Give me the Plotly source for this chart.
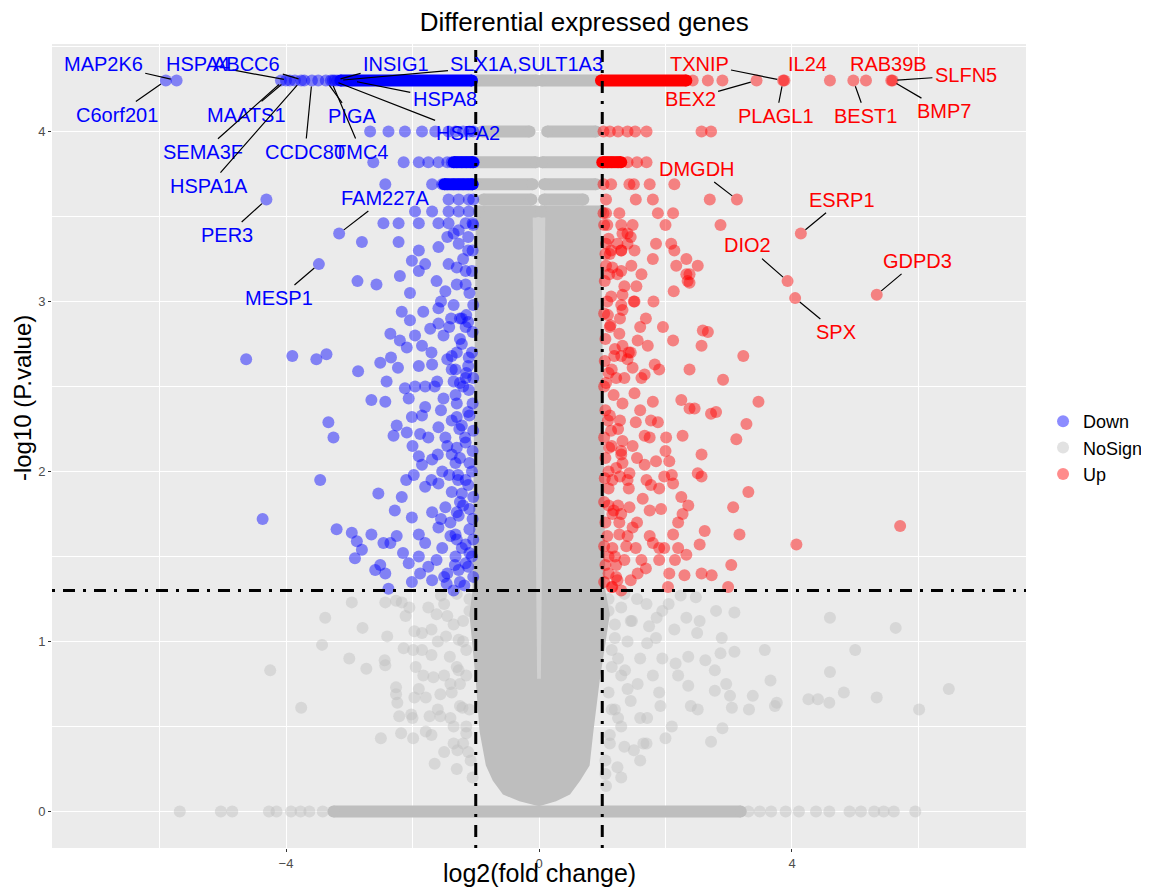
import plotly.graph_objects as go

# ---------------- data ----------------
groups = ["Down", "NoSign", "Up"]

down_x = [-5.9, -5.73, -4.08, -4.0, -3.94, -3.86, -3.76, -3.71, -3.59, -3.49, -3.37, -3.29, -3.26, -3.23, -3.19,
          -2.67, -2.38, -2.12, -1.85, -1.64, -1.43, -1.32, -1.2, -1.1, -1.04,
          -2.62, -2.14, -1.90, -1.75, -1.59, -1.45, -1.38, -1.3, -1.22, -1.15, -1.08, -1.03,
          -2.43, -1.69, -1.53, -1.45, -1.35, -1.27, -1.2, -1.12, -1.05,
          -4.31, -1.43, -1.27, -1.11, -1.04,
          -1.96, -1.69, -1.43, -1.27, -1.11,
          -2.46, -2.22, -1.90, -1.59, -1.43, -1.16, -1.05,
          -3.16, -1.27, -2.80, -2.22, -1.27, -1.59, -1.90, -2.01, -1.80, -1.43, -3.48, -1.90, -1.16, -2.20, -2.87, -2.57, -1.16, -1.48, -2.04,
          -2.17, -1.83, -2.04, -1.59, -1.39, -1.22, -1.59, -1.72, -2.35, -2.20, -1.96, -2.09, -1.85, -1.51, -1.22, -1.38, -1.16,
          -2.51, -2.34, -2.23, -2.86, -1.69, -1.32, -1.11, -2.41, -2.12, -1.96, -1.80, -1.61, -1.35, -1.16,
          -2.65, -2.43, -2.06, -1.80, -1.51, -1.32, -1.11, -3.33, -3.25, -2.25, -2.30, -2.09, -2.01, -1.85, -1.88,
          -1.59, -1.38, -1.22, -1.16, -1.48, -1.38, -1.69, -1.90, -1.85, -1.98, -1.53, -1.32, -1.16,
          -2.54, -2.17, -1.80, -1.59, -1.38, -1.22, -2.28, -2.01, -1.69, -1.48, -1.27, -1.90, -1.59, -1.32, -1.16,
          -3.20, -2.96, -2.88, -2.65, -2.80, -2.91, -2.46, -2.35, -2.59, -2.51, -2.43, -2.06, -1.88, -1.75, -2.01,
          -1.69, -1.46, -1.27, -1.16, -1.53, -1.32, -2.38, -4.63, -3.90, -3.52, -3.36, -3.46, -4.37,
          -1.04, -1.12, -1.05, -1.2, -1.06, -1.1, -1.04, -1.15, -1.05, -1.25, -1.06, -1.12, -1.04, -1.2, -1.05, -1.1,
          -1.04, -1.17, -1.05, -1.25, -1.06, -1.12, -1.04, -1.2, -1.05, -1.1, -1.04, -1.22, -1.06, -1.12, -1.04, -1.18,
          -1.35, -1.3, -1.42, -1.3, -1.45, -1.28, -1.4, -1.33, -1.5, -1.25, -1.38, -1.26, -1.3,
          -1.45, -1.62, -1.35, -1.7, -1.45, -1.25, -1.55, -1.75, -1.3, -1.6, -1.42, -1.7, -1.25, -1.55, -1.8, -1.4,
          -1.62, -1.45, -1.9, -1.35, -1.12, -1.3, -1.12, -1.3, -1.15, -1.12, -1.3, -1.1, -1.28, -1.1, -1.3, -1.1,
          -1.25, -1.55, -1.65, -1.9, -2.0, -2.1, -2.25, -2.15]
down_y = [4.3, 4.3, 4.3, 4.3, 4.3, 4.3, 4.3, 4.3, 4.3, 4.3, 4.3, 4.3, 4.3, 4.3, 4.3,
          4.0, 4.0, 4.0, 4.0, 4.0, 4.0, 4.0, 4.0, 4.0, 4.0,
          3.82, 3.82, 3.82, 3.82, 3.82, 3.82, 3.82, 3.82, 3.82, 3.82, 3.82, 3.82,
          3.69, 3.69, 3.69, 3.69, 3.69, 3.69, 3.69, 3.69, 3.69,
          3.6, 3.6, 3.6, 3.6, 3.6,
          3.53, 3.53, 3.53, 3.53, 3.53,
          3.46, 3.46, 3.46, 3.46, 3.46, 3.46, 3.46,
          3.40, 3.42, 3.35, 3.35, 3.34, 3.32, 3.30, 3.24, 3.22, 3.22, 3.22, 3.18, 3.18, 3.15, 3.12, 3.10, 3.10, 3.06, 3.05,
          2.94, 2.94, 2.89, 2.96, 2.90, 2.90, 2.87, 2.84, 2.81, 2.77, 2.80, 2.73, 2.74, 2.80, 2.75, 2.68, 2.85,
          2.64, 2.67, 2.61, 2.59, 2.63, 2.60, 2.67, 2.53, 2.49, 2.50, 2.50, 2.53, 2.53, 2.55,
          2.42, 2.41, 2.43, 2.38, 2.43, 2.45, 2.48, 2.29, 2.20, 2.27, 2.21, 2.23, 2.32, 2.33, 2.22,
          2.26, 2.30, 2.27, 2.17, 2.20, 2.10, 2.07, 2.09, 2.04, 1.98, 2.00, 2.05, 1.95,
          1.87, 1.85, 1.91, 1.93, 1.88, 1.87, 1.77, 1.73, 1.76, 1.79, 1.74, 1.63, 1.67, 1.63, 1.57,
          1.66, 1.64, 1.59, 1.63, 1.54, 1.49, 1.58, 1.58, 1.42, 1.45, 1.40, 1.46, 1.40, 1.44, 1.35,
          1.36, 1.34, 1.42, 1.46, 1.55, 1.50, 1.31, 2.66, 2.68, 2.66, 2.69, 1.95, 1.72,
          3.45, 3.38, 3.3, 3.25, 3.18, 3.05, 2.98, 2.92, 2.82, 2.78, 2.7, 2.62, 2.55, 2.5, 2.4, 2.33,
          2.24, 2.2, 2.12, 2.08, 2.0, 1.92, 1.85, 1.8, 1.72, 1.66, 1.6, 1.55, 1.5, 1.44, 1.38, 1.33,
          3.4, 3.1, 2.85, 2.4, 2.15, 1.95, 1.7, 1.45, 1.38, 2.9, 2.6, 2.25, 1.6,
          3.38, 3.12, 2.98, 2.7, 2.66, 2.52, 2.36, 2.2, 2.14, 2.1, 1.98, 1.95, 1.82, 1.72, 1.58, 1.62,
          1.48, 1.4, 1.5, 1.3, 3.3, 3.2, 2.88, 2.7, 2.58, 2.35, 2.32, 2.05, 1.98, 1.78, 1.76, 1.52,
          1.35, 3.0, 2.5, 2.62, 2.15, 1.95, 1.62, 1.52]

up_x = [2.43, 2.67, 2.9, 3.44, 3.86, 3.88, 4.6, 4.97, 5.17, 5.57, 5.59,
        1.02, 1.12, 1.25, 1.4, 1.52, 1.7, 2.57, 2.72,
        1.02, 1.08, 1.15, 1.25, 1.4, 1.55, 1.7,
        1.02, 1.14, 1.43, 1.5, 1.75, 2.14,
        1.06, 1.53, 1.8, 2.7, 3.13,
        1.02, 1.06, 1.27, 1.88, 2.12,
        1.08, 1.3, 1.48, 2.0, 2.87, 1.32, 1.4, 4.14, 1.06, 1.24, 1.4, 1.85, 2.09, 1.14, 1.3, 1.51, 2.14, 1.8, 2.33,
        1.06, 1.46, 2.17, 2.51, 1.11, 1.24, 2.33, 2.38, 3.93, 2.35, 4.05, 5.34,
        1.35, 1.54, 2.13, 2.38, 1.14, 1.32, 1.51, 1.81, 1.09, 1.32, 1.69, 1.96, 2.59, 2.67, 2.12, 1.27, 1.56, 1.72,
        1.32, 1.19, 1.4, 1.83, 1.48, 1.67, 2.38, 3.23, 2.91, 2.57, 1.06, 1.32, 1.51, 1.8, 2.25, 2.38, 2.46, 2.72,
        2.8, 3.47, 3.28, 3.12, 2.27, 2.01, 1.53, 1.77, 1.88, 1.67, 1.32, 1.48, 1.14, 1.11, 2.57, 1.85, 2.06, 1.67,
        1.32, 1.43, 1.16, 1.98, 2.51, 2.57, 3.31, 3.07, 1.77, 2.12, 1.9, 2.25, 2.36, 1.64, 1.75, 1.93, 2.27, 1.43,
        1.48, 1.16, 1.27, 1.75, 2.12, 2.62, 3.17, 4.07, 5.71, 1.9, 1.98, 2.2, 2.33, 2.54, 3.04, 1.16, 1.38, 1.53,
        1.22, 1.56, 1.69, 2.06, 2.3, 2.57, 2.73, 2.99, 2.04, 1.16,
        1.03, 1.1, 1.05, 1.16, 1.04, 1.08, 1.03, 1.13, 1.05, 1.2, 1.04, 1.1, 1.03, 1.18, 1.05, 1.09,
        1.03, 1.15, 1.05, 1.22, 1.04, 1.1, 1.03, 1.18, 1.05, 1.08, 1.03, 1.2, 1.05, 1.1, 1.03, 1.15,
        1.3, 1.28, 1.35, 1.25, 1.4, 1.27, 1.35, 1.24, 1.3, 1.42,
        1.45, 1.62, 1.3, 1.6, 1.45, 1.22, 1.6, 1.75, 1.3, 1.55, 1.42, 1.7, 1.25, 1.55, 1.8, 1.4,
        1.62, 1.45, 1.9, 1.3, 1.12, 1.3, 1.12, 1.3, 1.15, 1.12, 1.28, 1.1, 1.28, 1.1, 1.3, 1.1,
        1.22, 1.5, 1.62, 1.9, 2.0, 2.1, 2.2, 2.15]
up_y = [4.3, 4.3, 4.3, 4.3, 4.3, 4.3, 4.3, 4.3, 4.3, 4.3, 4.3,
        4.0, 4.0, 4.0, 4.0, 4.0, 4.0, 4.0, 4.0,
        3.82, 3.82, 3.82, 3.82, 3.82, 3.82, 3.82,
        3.69, 3.69, 3.69, 3.69, 3.69, 3.69,
        3.6, 3.6, 3.6, 3.6, 3.6,
        3.52, 3.52, 3.52, 3.52, 3.52,
        3.45, 3.45, 3.45, 3.45, 3.45, 3.4, 3.4, 3.4, 3.34, 3.34, 3.34, 3.34, 3.34, 3.3, 3.3, 3.3, 3.3, 3.25, 3.25,
        3.21, 3.21, 3.21, 3.21, 3.16, 3.16, 3.16, 3.16, 3.12, 3.12, 3.02, 3.04,
        3.09, 3.09, 3.06, 3.11, 3.03, 3.04, 3.0, 3.0, 2.92, 2.95, 2.9, 2.85, 2.83, 2.82, 2.77, 2.81, 2.77, 2.74,
        2.74, 2.68, 2.66, 2.63, 2.61, 2.57, 2.6, 2.68, 2.54, 2.74, 2.52, 2.4, 2.46, 2.41, 2.42, 2.37, 2.37, 2.34,
        2.35, 2.41, 2.28, 2.19, 2.21, 2.2, 2.29, 2.3, 2.29, 2.21, 2.18, 2.15, 2.24, 2.14, 2.1, 2.06, 2.06, 2.04,
        2.05, 1.99, 1.95, 1.97, 1.99, 1.97, 1.88, 1.79, 1.92, 1.93, 1.9, 1.85, 1.8, 1.84, 1.77, 1.78, 1.75, 1.79,
        1.67, 1.75, 1.63, 1.62, 1.63, 1.65, 1.63, 1.57, 1.68, 1.55, 1.55, 1.55, 1.51, 1.57, 1.45, 1.55, 1.56, 1.55,
        1.45, 1.4, 1.43, 1.4, 1.39, 1.4, 1.39, 1.32, 1.32, 1.32,
        3.45, 3.37, 3.28, 3.2, 3.12, 3.0, 2.93, 2.86, 2.78, 2.72, 2.65, 2.58, 2.5, 2.45, 2.36, 2.3,
        2.2, 2.15, 2.08, 2.02, 1.96, 1.9, 1.82, 1.77, 1.7, 1.62, 1.56, 1.5, 1.45, 1.4, 1.35, 1.32,
        3.3, 2.9, 2.55, 2.25, 1.95, 1.7, 1.48, 1.36, 2.1, 2.7,
        3.38, 3.16, 2.98, 2.85, 2.7, 2.55, 2.36, 2.2, 2.12, 2.08, 1.9, 1.95, 1.8, 1.7, 1.58, 1.62,
        1.48, 1.36, 1.48, 1.3, 3.28, 3.18, 2.85, 2.68, 2.6, 2.33, 2.3, 2.0, 1.97, 1.8, 1.75, 1.5,
        1.38, 3.0, 2.55, 2.6, 2.12, 1.98, 1.7, 1.48]

nosign_x = [-5.68, -5.03, -4.85, -4.27, -4.15, -3.92, -3.77, -3.63, -3.42,
            3.31, 3.49, 3.67, 3.90, 4.11, 4.38, 4.59, 4.91, 5.09, 5.30, 5.45, 5.61, 5.95,
            -2.96, -3.38, -2.79, -2.40, -3.43, -3.0, -2.73, -4.25, -2.43, -2.44, -3.76, -2.26, -2.26, -2.24, -2.21,
            -2.02, -1.97, -2.50, -2.18, -1.99, -1.79, -2.43, -2.26, -2.17, -2.11, -1.97, -2.14, -1.99, -1.85, -1.70,
            -1.70, -1.62, -1.50, -1.83, -1.67, -1.79, -1.56, -1.38, -1.73, -1.56, -1.50, -1.29, -1.15, -1.35, -1.21,
            -1.27, -1.41, -1.27, -1.47,
            -1.1, -1.2, -1.15, -1.25, -1.1, -1.2, -1.08, -1.35, -1.5, -1.6, -1.4, -1.3, -1.55, -1.75,
            -1.1, -1.2, -1.3, -1.15, -1.4, -1.25, -1.35, -1.15, -1.45, -1.6, -1.7, -1.9, -1.95, -1.85, -2.05, -1.05,
            -1.12, -1.65, -1.3, -2.0,
            4.60, 5.64, 3.57, 5.0, 4.60, 3.66, 4.82, 5.34, 6.48, 6.01, 4.26, 4.41, 4.59, 3.76, 3.73, 3.38, 3.32, 3.05,
            2.90, 2.72, 3.09, 2.80, 2.54, 2.33, 2.14, 2.89, 3.09, 2.87, 2.36, 2.63, 2.78, 2.96, 3.02, 2.78, 2.48, 2.24,
            1.95, 1.86, 2.16, 2.36, 2.51, 2.0, 1.65, 1.50, 1.71, 1.92, 1.56, 1.36, 1.71, 1.47, 1.74, 1.30, 1.24, 1.06,
            1.1, 1.2, 1.15, 1.25, 1.1, 1.2, 1.3, 1.12, 1.05, 1.4, 1.45, 1.6, 1.55, 1.35, 1.7, 1.8,
            1.1, 1.2, 1.3, 1.15, 1.4, 1.25, 1.35, 1.15, 1.45, 1.6, 1.7, 1.9, 1.95, 1.85, 2.05, 1.05, 1.12, 1.6, 1.3,
            2.1, 2.2, 2.4, 2.5]
nosign_y = [0, 0, 0, 0, 0, 0, 0, 0, 0,
            0, 0, 0, 0, 0, 0, 0, 0, 0, 0, 0, 0, 0,
            1.23, 1.14, 1.08, 1.03, 0.98, 0.90, 0.84, 0.83, 0.86, 0.89, 0.61, 0.73, 0.69, 0.64, 0.56,
            0.57, 0.67, 0.43, 0.46, 0.43, 0.47, 1.23, 1.24, 1.23, 1.15, 1.06, 0.96, 0.95, 0.95, 0.92,
            1.07, 1.16, 1.22, 0.80, 0.79, 0.67, 0.69, 0.70, 0.56, 0.56, 0.35, 0.36, 0.46, 0.50, 0.61,
            0.83, 0.91, 1.01, 1.03,
            1.25, 1.12, 0.95, 0.75, 0.6, 0.4, 0.3, 1.1, 0.8, 1.0, 0.55, 1.28, 1.27, 1.2,
            1.18, 1.0, 0.85, 0.8, 0.75, 0.62, 0.4, 0.5, 1.15, 0.6, 0.45, 0.72, 0.85, 1.05, 1.2, 0.2,
            0.35, 0.28, 0.25, 0.55,
            1.14, 1.08, 0.95, 0.95, 0.82, 0.77, 0.70, 0.67, 0.72, 0.60, 0.66, 0.66, 0.64, 0.64, 0.62, 0.68, 0.60, 0.61,
            0.49, 0.41, 1.17, 1.18, 1.12, 1.14, 1.07, 1.02, 0.94, 0.93, 0.91, 0.89, 0.83, 0.75, 0.68, 0.71, 1.26, 1.27,
            1.18, 1.14, 0.87, 0.74, 0.60, 0.43, 0.40, 0.36, 0.55, 0.62, 0.75, 0.83, 0.99, 1.12, 1.09, 1.20, 0.26, 0.15,
            1.25, 1.1, 0.95, 0.9, 0.7, 0.6, 0.5, 0.45, 0.3, 1.0, 0.65, 0.9, 1.25, 1.28, 1.22, 0.8,
            1.18, 1.02, 0.8, 0.85, 0.72, 0.55, 0.38, 0.6, 1.12, 0.55, 0.4, 0.7, 0.9, 1.02, 1.22, 0.22, 0.4, 0.3, 0.2,
            0.5, 0.8, 0.62, 1.05]

# rows of fully overlapping points (same P.value level): group, y, x from, x to
run_group = ["NoSign"] * 13 + ["Down"] * 3 + ["Up"] * 2
run_y = [4.3, 4.3, 4.0, 4.0, 3.82, 3.82, 3.69, 3.69, 3.6, 3.6, 3.53, 3.53, 0.0,
         4.3, 3.82, 3.69,
         4.3, 3.82]
run_x0 = [-1.0, 0.04, -0.9, 0.13, -1.0, 0.05, -1.0, 0.08, -0.88, 0.08, -0.95, 0.03, -3.25,
          -3.14, -1.35, -1.5,
          0.98, 1.0]
run_x1 = [-0.04, 0.97, -0.15, 0.9, -0.05, 0.98, -0.1, 0.9, -0.12, 0.7, -0.05, 0.98, 3.19,
          -1.06, -1.04, -1.05,
          2.33, 1.3]

# outline of the dense NoSign mass and its sparser centre strip
core_x = [-1.0, -1.05, -1.1, -1.0, -0.94, -0.84, -0.73, -0.57, -0.31, 0.0, 0.27, 0.49, 0.65, 0.80, 0.86, 0.96, 1.12, 1.05, 0.98]
core_y = [3.50, 1.30, 1.16, 0.77, 0.47, 0.27, 0.18, 0.10, 0.06, 0.03, 0.06, 0.10, 0.18, 0.27, 0.47, 0.77, 1.16, 1.30, 3.50]
strip_x = [-0.1, 0.1, 0.03, -0.03]
strip_y = [3.5, 3.5, 0.78, 0.78]

label_gene = ["MAP2K6", "C6orf201", "HSPA4", "ABCC6", "MAATS1", "SEMA3F", "HSPA1A", "CCDC80", "PIGA", "TMC4",
              "INSIG1", "SLX1A,SULT1A3", "HSPA8", "HSPA2", "PER3", "FAM227A", "MESP1",
              "TXNIP", "BEX2", "PLAGL1", "IL24", "RAB39B", "BEST1", "SLFN5", "BMP7", "DMGDH", "ESRP1", "DIO2",
              "SPX", "GDPD3"]
label_group = ["Down"] * 17 + ["Up"] * 13
label_x = [-5.73, -5.9, -3.94, -3.71, -4.0, -4.04, -3.76, -3.59, -3.37, -3.29, -3.23, -3.19, -2.97, -3.26,
           -4.31, -3.16, -3.48,
           3.86, 3.44, 3.86, 4.6, 5.17, 4.97, 5.57, 5.57, 3.13, 4.14, 3.93, 4.05, 5.34]
label_y = [4.3, 4.3, 4.3, 4.3, 4.3, 4.3, 4.3, 4.3, 4.3, 4.3, 4.3, 4.3, 4.3, 4.3,
           3.6, 3.40, 3.22,
           4.3, 4.3, 4.3, 4.3, 4.3, 4.3, 4.3, 4.3, 3.6, 3.40, 3.12, 3.02, 3.04]

x_ticks = [-4, 0, 4]
x_minor = [-6, -2, 2, 6]
y_ticks = [0, 1, 2, 3, 4]
y_minor = [0.5, 1.5, 2.5, 3.5, 4.5]
fc_cut = [-1, 1]
p_cut = 1.3

# ---------------- styling / layout (not data) ----------------
solid = {"Down": "rgb(0,0,255)", "NoSign": "rgb(190,190,190)", "Up": "rgb(255,0,0)"}
label_color = {"Down": "blue", "Up": "red"}
# label text positions (data coords); flag = draw leader segment
label_pos = {
    "MAP2K6": (-6.89, 4.40, True), "C6orf201": (-6.67, 4.10, True), "HSPA4": (-5.39, 4.40, True),
    "ABCC6": (-4.62, 4.40, True), "MAATS1": (-4.63, 4.10, True), "SEMA3F": (-5.31, 3.88, True),
    "HSPA1A": (-5.22, 3.68, True), "CCDC80": (-3.70, 3.88, True), "PIGA": (-2.96, 4.09, True),
    "TMC4": (-2.81, 3.88, True), "INSIG1": (-2.26, 4.40, True), "SLX1A,SULT1A3": (-0.19, 4.40, True),
    "HSPA8": (-1.49, 4.19, True), "HSPA2": (-1.12, 3.99, True), "PER3": (-4.93, 3.39, True),
    "FAM227A": (-2.43, 3.61, True), "MESP1": (-4.11, 3.02, True),
    "TXNIP": (2.53, 4.40, True), "BEX2": (2.39, 4.19, True), "PLAGL1": (3.75, 4.09, True),
    "IL24": (4.24, 4.40, False), "RAB39B": (5.53, 4.40, False), "BEST1": (5.17, 4.09, True),
    "SLFN5": (6.75, 4.33, True), "BMP7": (6.40, 4.12, True), "DMGDH": (2.50, 3.78, True),
    "ESRP1": (4.79, 3.60, True), "DIO2": (3.29, 3.33, True), "SPX": (4.70, 2.82, True),
    "GDPD3": (5.98, 3.24, True),
}
MS = 12
FONT = "Liberation Sans, Arial, sans-serif"

fig = go.Figure()

# dense NoSign mass
fig.add_trace(go.Scatter(x=core_x, y=core_y, fill="toself", fillcolor=solid["NoSign"], mode="lines",
                         line=dict(width=0), hoverinfo="skip", showlegend=False))
fig.add_trace(go.Scatter(x=strip_x, y=strip_y, fill="toself", fillcolor="rgba(235,235,235,0.4)", mode="lines",
                         line=dict(width=0), hoverinfo="skip", showlegend=False))


def add_runs(group):
    for g, y, a, b in zip(run_group, run_y, run_x0, run_x1):
        if g != group:
            continue
        fig.add_trace(go.Scatter(x=[a, b], y=[y, y], mode="lines+markers",
                                 line=dict(color=solid[g], width=MS),
                                 marker=dict(size=MS, color=solid[g]),
                                 hoverinfo="skip", showlegend=False))


pts = {"Down": (down_x, down_y), "NoSign": (nosign_x, nosign_y), "Up": (up_x, up_y)}
rank = {"Down": 1, "NoSign": 2, "Up": 3}
for g in ["NoSign", "Down", "Up"]:
    add_runs(g)
    xs, ys = pts[g]
    fig.add_trace(go.Scatter(x=xs, y=ys, mode="markers", name=g, legendrank=rank[g],
                             marker=dict(size=MS, color=solid[g], opacity=0.45, line=dict(width=0))))

# threshold lines
dash = "3px,8px,12px,8px"
for v in fc_cut:
    fig.add_shape(type="line", x0=v, x1=v, y0=0, y1=1, xref="x", yref="paper",
                  line=dict(color="black", width=3, dash=dash))
fig.add_shape(type="line", x0=0, x1=1, y0=p_cut, y1=p_cut, xref="paper", yref="y",
              line=dict(color="black", width=3, dash=dash))

# gene labels
for gene, g, px, py in zip(label_gene, label_group, label_x, label_y):
    tx, ty, seg = label_pos[gene]
    if seg:
        fig.add_annotation(x=px, y=py, ax=tx, ay=ty, axref="x", ayref="y", xref="x", yref="y",
                           text=gene, showarrow=True, arrowhead=0, arrowwidth=1.2, arrowcolor="black",
                           standoff=6, startstandoff=1,
                           font=dict(size=20, color=label_color[g], family=FONT))
    else:
        fig.add_annotation(x=tx, y=ty, xref="x", yref="y", text=gene, showarrow=False,
                           font=dict(size=20, color=label_color[g], family=FONT))

# axis titles (placed like ggplot, overlapping the tick-label band)
fig.add_annotation(text="log2(fold change)", xref="paper", yref="paper", x=0.501, y=-0.031,
                   xanchor="center", yanchor="middle", showarrow=False, font=dict(size=25, color="black"))
fig.add_annotation(text="-log10 (P.value)", xref="paper", yref="paper", x=-0.0305, y=0.56,
                   xanchor="center", yanchor="middle", textangle=-90, showarrow=False,
                   font=dict(size=24, color="black"))

# page body has an 8px margin: figure is 1141x880 so that it fills the 1149x888 window
fig.update_layout(
    width=1141, height=880,
    margin=dict(l=44, r=123, t=36, b=40, autoexpand=False),
    paper_bgcolor="white", plot_bgcolor="#EBEBEB",
    font=dict(family=FONT, color="black"),
    title=dict(text="Differential expressed genes", x=0.505, xref="container", xanchor="center",
               y=0.984, yref="container", yanchor="middle", font=dict(size=26, color="black")),
    showlegend=True,
    legend=dict(x=1.0175, xanchor="left", y=0.4975, yanchor="middle", font=dict(size=18),
                bgcolor="rgba(0,0,0,0)", itemsizing="trace"),
    xaxis=dict(range=[-7.7, 7.7], tickvals=x_ticks, showgrid=True, gridcolor="white", gridwidth=1.2,
               zeroline=False, ticks="outside", ticklen=3, tickcolor="#333333", tickwidth=1,
               tickfont=dict(size=13, color="#4D4D4D"),
               minor=dict(tickvals=x_minor, showgrid=True, gridcolor="white", gridwidth=0.6, ticks=""),
               automargin=False),
    yaxis=dict(range=[-0.215, 4.515], tickvals=y_ticks, showgrid=True, gridcolor="white", gridwidth=1.2,
               zeroline=False, ticks="outside", ticklen=3, tickcolor="#333333", tickwidth=1,
               tickfont=dict(size=13, color="#4D4D4D"),
               minor=dict(tickvals=y_minor, showgrid=True, gridcolor="white", gridwidth=0.6, ticks=""),
               automargin=False),
)

fig.write_html("out.html")
